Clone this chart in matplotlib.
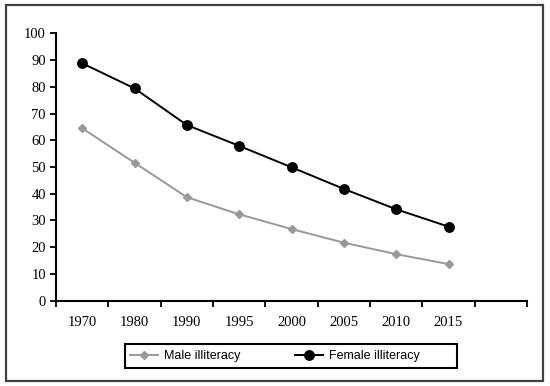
import matplotlib
matplotlib.use("Agg")
import matplotlib.pyplot as plt
from matplotlib.patches import Rectangle

# values
years = ['1970', '1980', '1990', '1995', '2000', '2005', '2010', '2015']
male_illiteracy = [64.5, 51.6, 38.7, 32.3, 26.8, 21.7, 17.4, 13.7]
female_illiteracy = [88.8, 79.4, 65.7, 57.9, 49.9, 41.8, 34.2, 27.7]
y_ticks = [0, 10, 20, 30, 40, 50, 60, 70, 80, 90, 100]

W, H = 550, 386
fig = plt.figure(figsize=(W / 100, H / 100), dpi=100)
fig.patch.set_facecolor('white')

# outer frame round the whole chart
fig.patches.append(Rectangle((6 / W, 5 / H), 537 / W, 376 / H, transform=fig.transFigure,
                             fill=False, edgecolor='#404040', linewidth=1.6))

ax = fig.add_axes([56 / W, (H - 300.7) / H, 471 / W, 267.4 / H])
x = list(range(len(years)))

ax.plot(x, male_illiteracy, color='#999999', marker='D', markersize=4.5,
        linewidth=1.4, label='Male illiteracy', clip_on=False)
ax.plot(x, female_illiteracy, color='black', marker='o', markersize=6.8,
        linewidth=1.4, label='Female illiteracy', clip_on=False)

# nine category slots, the last one stays empty
ax.set_xlim(-0.5, 8.5)
ax.set_ylim(0, 100)
ax.set_xticks(x)
ax.set_xticklabels(years)
ax.set_xticks([i - 0.5 for i in range(10)], minor=True)
ax.set_yticks(y_ticks)

for s in ['top', 'right']:
    ax.spines[s].set_visible(False)
for s in ['left', 'bottom']:
    ax.spines[s].set_linewidth(1.5)

ax.tick_params(axis='x', which='major', length=0, pad=11)
ax.tick_params(axis='x', which='minor', length=4.3, width=1.3, direction='out')
ax.tick_params(axis='y', length=4.3, width=1.3, direction='out', pad=3)
for lab in ax.get_xticklabels() + ax.get_yticklabels():
    lab.set_fontfamily('Liberation Serif')
    lab.set_fontsize(10.5)

# legend box drawn by hand, entries placed inside it
fig.patches.append(Rectangle((125 / W, (H - 368) / H), 332 / W, 24 / H, transform=fig.transFigure,
                             fill=False, edgecolor='black', linewidth=1.5))
leg = fig.legend(loc='center left', ncol=2, bbox_to_anchor=(130 / W, (H - 356) / H),
                 borderaxespad=0, borderpad=0, frameon=False,
                 handlelength=2.24, handletextpad=0.48, columnspacing=4.4,
                 prop={'family': 'Liberation Sans', 'size': 9})

fig.savefig('out.png', dpi=100)
